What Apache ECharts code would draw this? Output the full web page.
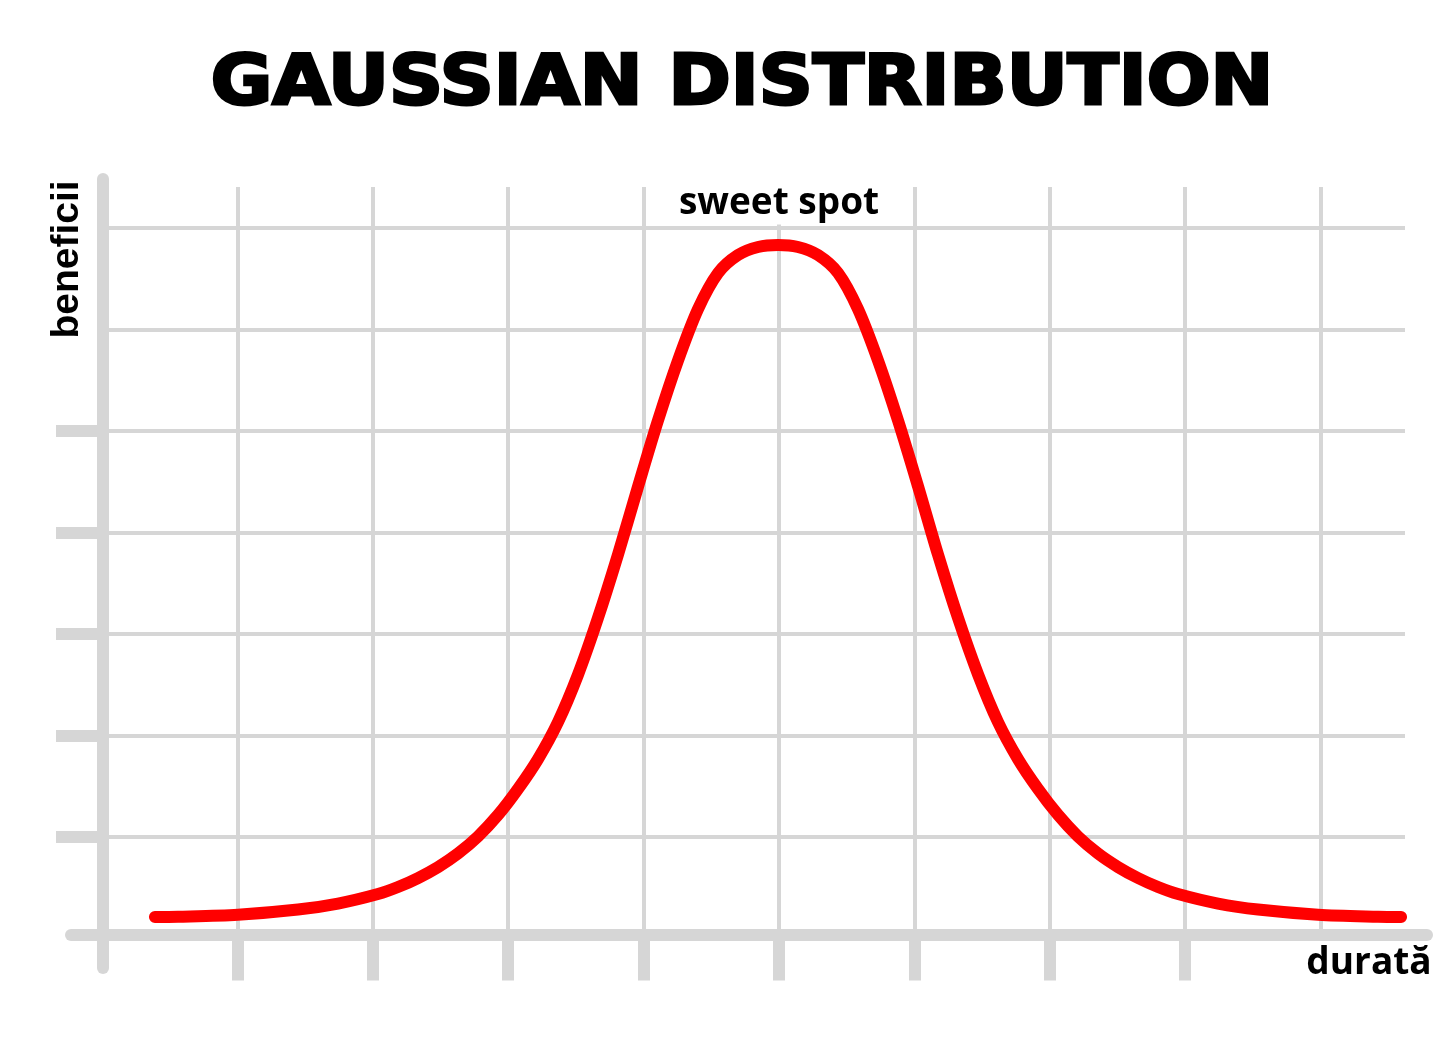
<!DOCTYPE html>
<html>
<head>
<meta charset="utf-8">
<script src="https://cdn.jsdelivr.net/npm/echarts@6/dist/echarts.min.js"></script>
<style>html,body{margin:0;padding:0;background:#fff}#c{width:1456px;height:1048px}</style>
</head>
<body>
<div id="c"></div>
<script>
// ---- text ----
const titleText = 'GAUSSIAN DISTRIBUTION';
const peakLabel = 'sweet spot';
const xAxisName = 'durată';
const yAxisName = 'beneficii';

// ---- curve ----
const curveX = [0.391, 0.561, 1.004, 1.448, 1.743, 2.038, 2.186, 2.334, 2.482, 2.629, 2.777, 2.925, 3.072, 3.220, 3.368, 3.516, 3.663, 3.811, 3.959, 4.106, 4.254, 4.402, 4.550, 4.697, 4.845,
                4.993,
                5.140, 5.288, 5.436, 5.583, 5.731, 5.879, 6.027, 6.174, 6.322, 6.470, 6.617, 6.765, 6.913, 7.061, 7.208, 7.356, 7.504, 7.651, 7.799, 7.947, 8.242, 8.538, 8.981, 9.424, 9.594];
const curveY = [0.211, 0.214, 0.234, 0.285, 0.344, 0.438, 0.507, 0.596, 0.704, 0.837, 1.005, 1.217, 1.473, 1.768, 2.133, 2.601, 3.158, 3.783, 4.453, 5.103, 5.695, 6.202, 6.557, 6.734, 6.813,
                6.833,
                6.813, 6.734, 6.557, 6.202, 5.695, 5.103, 4.453, 3.783, 3.158, 2.601, 2.133, 1.768, 1.473, 1.217, 1.005, 0.837, 0.704, 0.596, 0.507, 0.438, 0.344, 0.285, 0.234, 0.214, 0.211];

// ---- axes ----
const xTicks = [1, 2, 3, 4, 5, 6, 7, 8];
const yTicks = [1, 2, 3, 4, 5];
const xMax = 9.623;
const yMax = 7.404;

const gray = '#d6d6d6';
const hidden = {axisLine: {show: false}, axisLabel: {show: false}, axisTick: {show: false}, splitLine: {show: false}};
const chart = echarts.init(document.getElementById('c'), null, {renderer: 'canvas'});
chart.setOption({
  animation: false,
  backgroundColor: '#ffffff',
  grid: [
    {left: 102, top: 187, width: 1303, height: 751.5, outerBoundsMode: 'none', containLabel: false},
    {left: 71, top: 179, width: 1356, height: 789, outerBoundsMode: 'none', containLabel: false}
  ],
  xAxis: [
    // grid lines
    Object.assign({type: 'value', gridIndex: 0, min: 0, max: xMax, interval: 1}, hidden,
      {splitLine: {show: true, showMinLine: false, showMaxLine: false, lineStyle: {color: gray, width: 4, type: 'solid'}}}),
    // axis line (extends past the plot)
    Object.assign({type: 'value', gridIndex: 1, min: -32, max: 1324}, hidden,
      {axisLine: {show: true, onZero: true, lineStyle: {color: gray, width: 12}}}),
    // ticks
    Object.assign({type: 'value', gridIndex: 0, min: 0, max: xMax, interval: 1, position: 'bottom'}, hidden,
      {axisTick: {show: true, length: 42, customValues: xTicks, lineStyle: {color: gray, width: 12}}})
  ],
  yAxis: [
    Object.assign({type: 'value', gridIndex: 0, min: 0, max: yMax, interval: 1}, hidden,
      {splitLine: {show: true, showMinLine: false, showMaxLine: false, lineStyle: {color: gray, width: 4, type: 'solid'}}}),
    Object.assign({type: 'value', gridIndex: 1, min: -33, max: 756}, hidden,
      {axisLine: {show: true, onZero: true, lineStyle: {color: gray, width: 12}}}),
    Object.assign({type: 'value', gridIndex: 0, min: 0, max: yMax, interval: 1, position: 'left'}, hidden,
      {axisTick: {show: true, length: 46, customValues: yTicks, lineStyle: {color: gray, width: 12}}})
  ],
  series: [{
    type: 'line', xAxisIndex: 0, yAxisIndex: 0,
    data: curveX.map((x, i) => [x, curveY[i]]),
    showSymbol: false, symbol: 'none', smooth: 0.3, clip: false, silent: true, z: 5,
    lineStyle: {color: '#ff0000', width: 12, cap: 'round', join: 'round'}
  }],
  graphic: [
    {type: 'text', x: 742, y: 86, scaleX: 1.087, z: 10,
     style: {text: titleText, font: 'bold 69px "DejaVu Sans"', fill: '#000', stroke: '#000', lineWidth: 3, align: 'center', verticalAlign: 'middle'}},
    {type: 'text', x: 779, y: 203, z: 10,
     style: {text: peakLabel, font: 'bold 37px "Open Sans"', fill: '#000', align: 'center', verticalAlign: 'middle', backgroundColor: '#ffffff', padding: [2, 10, 4, 10]}},
    {type: 'text', x: 1369, y: 963, z: 10,
     style: {text: xAxisName, font: 'bold 37px "Open Sans"', fill: '#000', align: 'center', verticalAlign: 'middle'}},
    {type: 'text', x: 67, y: 259.5, rotation: Math.PI / 2, z: 10,
     style: {text: yAxisName, font: 'bold 39px "Liberation Sans", Arial, sans-serif', fill: '#000', align: 'center', verticalAlign: 'middle'}}
  ]
});
</script>
</body>
</html>
